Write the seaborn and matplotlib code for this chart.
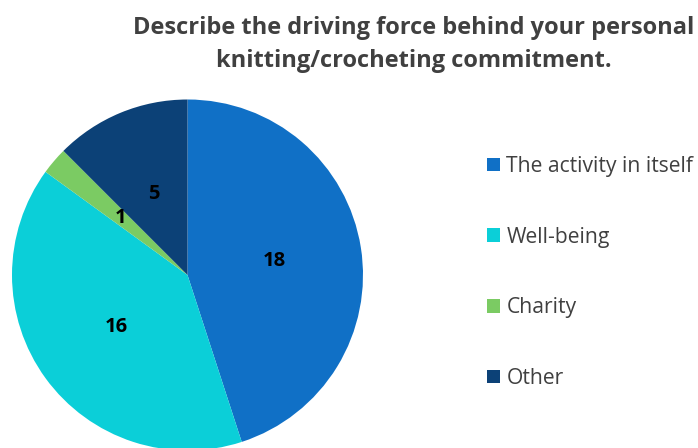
import matplotlib
matplotlib.use("Agg")
import matplotlib.pyplot as plt
import seaborn as sns
from matplotlib.patches import Patch

sns.set_theme(style="white")
plt.rcParams['font.family'] = ['Open Sans', 'DejaVu Sans']

categories = ["The activity in itself", "Well-being", "Charity", "Other"]
values = [18, 16, 1, 5]
colors = ["#1070C6", "#0BCFD8", "#7BCB63", "#0C4177"]
title = "Describe the driving force behind your personal\nknitting/crocheting commitment."

W, H = 698, 448
fig = plt.figure(figsize=(W / 100, H / 100), dpi=100)
fig.patch.set_facecolor("white")

cx, cy, r = 187.5, 275, 175.5
ax = fig.add_axes([(cx - r) / W, (H - cy - r) / H, 2 * r / W, 2 * r / H])
wedges, texts = ax.pie(values, colors=colors, startangle=90, counterclock=False,
                       labels=[str(v) for v in values], labeldistance=0.5,
                       textprops=dict(fontsize=14.5, fontweight="bold", color="black",
                                      ha="center", va="center"),
                       wedgeprops=dict(linewidth=0))
ax.set_xlim(-1, 1)
ax.set_ylim(-1, 1)
ax.set_aspect("auto")
ax.axis("off")

fig.text(414 / W, 1 - 44.5 / H, title, ha="center", va="center", fontsize=17.0,
         fontweight="bold", color="#404040", linespacing=1.5)

handles = [Patch(facecolor=c, edgecolor="none") for c in colors]
leg = fig.legend(handles, categories, loc="upper left",
                 bbox_to_anchor=(487 / W, 1 - 156 / H), frameon=False,
                 fontsize=15.2, labelspacing=2.35, handlelength=0.62, handleheight=0.62,
                 handletextpad=0.3, borderpad=0, borderaxespad=0)
for t in leg.get_texts():
    t.set_color("#404040")

fig.savefig("out.png", dpi=100, facecolor="white")
